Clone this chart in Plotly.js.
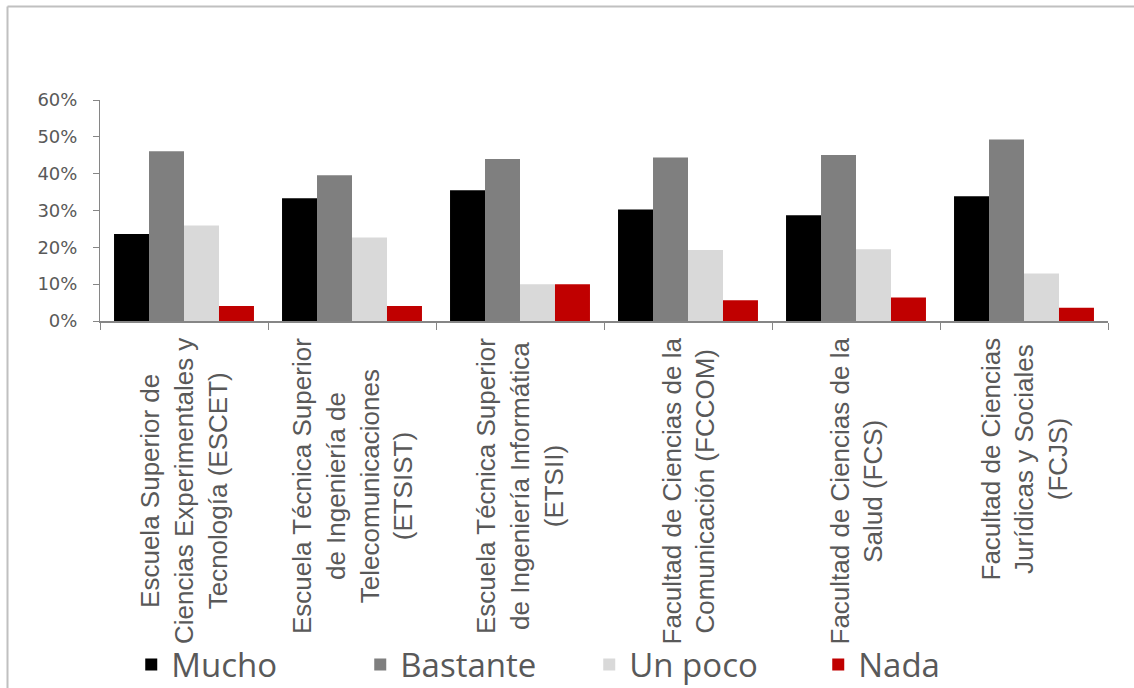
<!DOCTYPE html>
<html>
<head>
<meta charset="utf-8">
<script src="https://cdn.plot.ly/plotly-3.0.1.min.js"></script>
<style>html,body{margin:0;padding:0;background:#fff;}#chart{width:1134px;height:688px;}</style>
</head>
<body>
<div id="chart"></div>
<script>
// Categories (x axis)
const categories = ["ESCET", "ETSIST", "ETSII", "FCCOM", "FCS", "FCJS"];
const categoryLabels = [
  "Escuela Superior de<br>Ciencias Experimentales y<br>Tecnología (ESCET)",
  "Escuela Técnica Superior<br>de Ingeniería de<br>Telecomunicaciones<br>(ETSIST)",
  "Escuela Técnica Superior<br>de Ingeniería Informática<br>(ETSII)",
  "Facultad de Ciencias de la<br>Comunicación (FCCOM)",
  "Facultad de Ciencias de la<br>Salud (FCS)",
  "Facultad de Ciencias<br>Jurídicas y Sociales<br>(FCJS)"
];
// Series values (fractions)
const mucho    = [0.236, 0.333, 0.355, 0.303, 0.287, 0.339];
const bastante = [0.461, 0.396, 0.440, 0.444, 0.451, 0.493];
const unPoco   = [0.259, 0.227, 0.100, 0.193, 0.195, 0.129];
const nada     = [0.041, 0.041, 0.100, 0.056, 0.064, 0.036];
const seriesNames = ["Mucho", "Bastante", "Un poco", "Nada"];
const yTickVals = [0, 0.1, 0.2, 0.3, 0.4, 0.5, 0.6];

const colors = ["#000000", "#7f7f7f", "#d9d9d9", "#c00000"];
const seriesValues = [mucho, bastante, unPoco, nada];

const traces = seriesValues.map((vals, i) => ({
  type: "bar",
  name: seriesNames[i],
  x: categories,
  y: vals,
  marker: {color: colors[i], line: {width: 0}},
  hoverinfo: "skip"
}));

const annotations = categories.map((c, i) => ({
  x: c, xref: "x",
  y: 0, yref: "paper",
  yanchor: "top", xanchor: "center",
  yshift: -15,
  text: categoryLabels[i],
  textangle: -90,
  align: "center",
  showarrow: false,
  font: {family: "Liberation Sans, Arial, sans-serif", size: 26, color: "#595959"}
}));

const layout = {
  width: 1134, height: 688,
  margin: {l: 100, r: 26, t: 100, b: 367, autoexpand: false},
  paper_bgcolor: "#ffffff",
  plot_bgcolor: "#ffffff",
  barmode: "group",
  bargap: 0.167,
  bargroupgap: 0,
  showlegend: true,
  legend: {
    orientation: "h",
    x: 0.031, xanchor: "left",
    y: -1.555, yanchor: "middle",
    yref: "paper",
    font: {family: "Open Sans, sans-serif", size: 33, color: "#595959"},
    entrywidth: 184, entrywidthmode: "pixels",
    itemclick: false, itemdoubleclick: false,
    tracegroupgap: 0
  },
  xaxis: {
    type: "category",
    showticklabels: false,
    showgrid: false,
    showline: true, linecolor: "#868686", linewidth: 2,
    ticks: "outside", ticklen: 7, tickcolor: "#868686", tickwidth: 1,
    tickson: "boundaries",
    zeroline: false, fixedrange: true
  },
  yaxis: {
    range: [0, 0.6],
    tickvals: yTickVals,
    tickformat: ".0%",
    showgrid: false,
    showline: true, linecolor: "#868686", linewidth: 1,
    ticks: "outside", ticklen: 6, tickcolor: "#868686", tickwidth: 1,
    ticklabelstandoff: 12,
    tickfont: {family: "DejaVu Sans, sans-serif", size: 18, color: "#595959"},
    zeroline: false, fixedrange: true
  },
  annotations: annotations,
  shapes: [
    {type: "line", xref: "paper", yref: "paper", x0: -92.5/1008, x1: 1.2, y0: (321-6.5)/221, y1: (321-6.5)/221, line: {color: "#c0c0c0", width: 2}},
    {type: "line", xref: "paper", yref: "paper", x0: -92.5/1008, x1: -92.5/1008, y0: (321-6.5)/221, y1: -2, line: {color: "#c0c0c0", width: 2}}
  ]
};

Plotly.newPlot("chart", traces, layout, {displayModeBar: false, staticPlot: true});
</script>
</body>
</html>
